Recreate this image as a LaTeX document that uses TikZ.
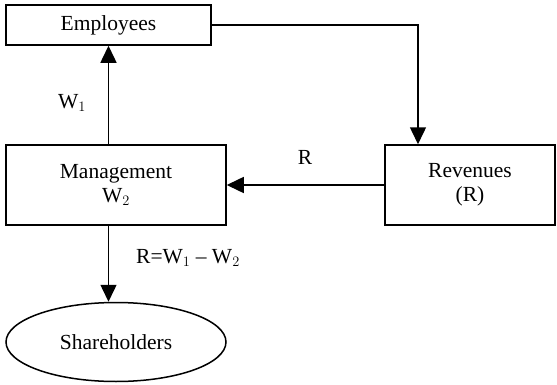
\documentclass[tikz,border=0pt]{standalone}
\usepackage{fontspec}
\setmainfont{Liberation Serif}
\usetikzlibrary{arrows.meta,positioning,calc,shapes.geometric}

\begin{document}
\begin{tikzpicture}[x=1pt,y=1pt,>={Triangle[length=17pt,width=16pt]},
  line width=1.5pt,font=\fontsize{21.5}{24}\selectfont,
  main node/.style={rectangle,draw,align=center,inner sep=0pt},
  end node/.style={ellipse,draw,inner sep=0pt}]
  \useasboundingbox (0,0) rectangle (557,384);

  \node[main node,minimum width=205pt,minimum height=40pt] (emp) at (108.5,359) {Employees};
  \node[main node,minimum width=220pt,minimum height=80pt] (mgmt) at (116,199) {Management\\W$_2$};
  \node[main node,minimum width=170pt,minimum height=80pt] (rev) at (470,199) {Revenues\\(R)};
  \node[end node,minimum width=220pt,minimum height=79pt] (share) at (116,42) {Shareholders};

  % flows
  \draw[->] (mgmt.north -| emp.south) -- (emp.south);
  \draw[->] (emp.east) -| ([xshift=-52pt]rev.north);
  \draw[->] (rev.west) -- (mgmt.east);
  \draw[->] (mgmt.south -| emp.south) -- (share.north -| emp.south);

  \node (w1) at (72,281) {W$_1$};
  \node (r) at (305,227) {R};
  \node (rw) at (188,126) {R=W$_1$ -- W$_2$};
\end{tikzpicture}
\end{document}
